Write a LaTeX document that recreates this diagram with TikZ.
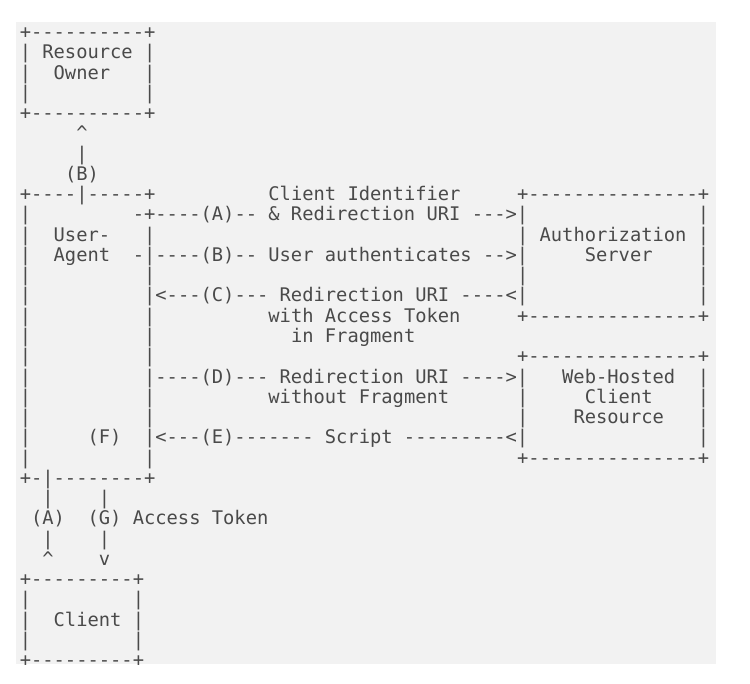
\documentclass[tikz,border=0pt]{standalone}
\usepackage{fontspec}
\setmonofont{DejaVu Sans Mono}
\usepackage{tikz}
\definecolor{paper}{HTML}{F2F2F2}
\definecolor{ink}{HTML}{4A4A4A}
\tikzset{
    every picture/.style={line cap=round,line join=round},
    asciirow/.style={anchor=base west,inner sep=0pt,outer sep=0pt,text=ink,
      font=\ttfamily\frenchspacing\fontsize{18.77pt}{20.26pt}\selectfont}
}
% one macro per text row, spaces kept as they are
\newcommand\artrow[2]{\expandafter\gdef\csname artrow#1\endcsname{#2}}
\begingroup
\catcode`\ =\active\gdef {\ }%
\artrow{1}{+----------+}
\artrow{2}{| Resource |}
\artrow{3}{|  Owner   |}
\artrow{4}{|          |}
\artrow{5}{+----------+}
\artrow{6}{     \textasciicircum}
\artrow{7}{     |}
\artrow{8}{    (B)}
\artrow{9}{+----|-----+          Client Identifier     +---------------+}
\artrow{10}{|         -+----(A)-- \& Redirection URI --->|               |}
\artrow{11}{|  User-   |                                | Authorization |}
\artrow{12}{|  Agent  -|----(B)-- User authenticates -->|     Server    |}
\artrow{13}{|          |                                |               |}
\artrow{14}{|          |<---(C)--- Redirection URI ----<|               |}
\artrow{15}{|          |          with Access Token     +---------------+}
\artrow{16}{|          |            in Fragment}
\artrow{17}{|          |                                +---------------+}
\artrow{18}{|          |----(D)--- Redirection URI ---->|   Web-Hosted  |}
\artrow{19}{|          |          without Fragment      |     Client    |}
\artrow{20}{|          |                                |    Resource   |}
\artrow{21}{|     (F)  |<---(E)------- Script ---------<|               |}
\artrow{22}{|          |                                +---------------+}
\artrow{23}{+-|--------+}
\artrow{24}{  |    |}
\artrow{25}{ (A)  (G) Access Token}
\artrow{26}{  |    |}
\artrow{27}{  \textasciicircum    v}
\artrow{28}{+---------+}
\artrow{29}{|         |}
\artrow{30}{|  Client |}
\artrow{31}{|         |}
\artrow{32}{+---------+}
\endgroup

\begin{document}
\begin{tikzpicture}[x=1pt,y=-1pt]
  \useasboundingbox (0,0) rectangle (750,684);
  \fill[paper] (16,22) rectangle (716,664);
  \foreach \i in {1,...,32}
    \node[asciirow] (row\i) at (19.8,{38.6+(\i-1)*20.26}) {\csname artrow\i\endcsname};
\end{tikzpicture}
\end{document}
